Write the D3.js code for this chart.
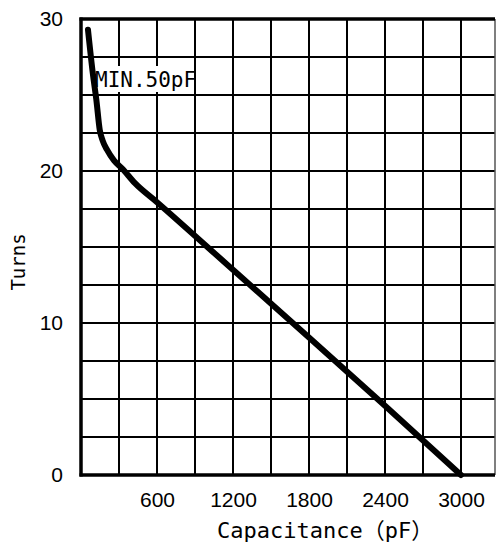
<!DOCTYPE html>
<html>
<head>
<meta charset="utf-8">
<script src="https://cdn.jsdelivr.net/npm/d3@7"></script>
<style>
  html, body { margin: 0; padding: 0; background: #fff; }
  svg { display: block; }
</style>
</head>
<body>
<div id="chart"></div>
<script>
// curve: capacitance (pF) vs turns
const capacitance = [55, 95, 121, 148, 171, 205, 260, 321, 426, 600, 1200, 1800, 2400, 3000];
const turns       = [29.3, 26.3, 24.7, 22.7, 22.0, 21.4, 20.7, 20.2, 19.2, 17.95, 13.5, 9.05, 4.55, 0];

const xTicks = [600, 1200, 1800, 2400, 3000];
const yTicks = [0, 10, 20, 30];
const xGrid = [300, 600, 900, 1200, 1500, 1800, 2100, 2400, 2700, 3000];
const yGrid = [2.5, 5, 7.5, 10, 12.5, 15, 17.5, 20, 22.5, 25, 27.5];
const note = "MIN.50pF";

const W = 496, H = 544;
const plotL = 81, plotT = 19, plotB = 475, plotR = 495;

const x = d3.scaleLinear().domain([0, 3000]).range([plotL, 461]);
const y = d3.scaleLinear().domain([0, 30]).range([plotB, plotT]);

const svg = d3.select("#chart").append("svg")
    .attr("width", W)
    .attr("height", H);

// grid
svg.append("g")
    .selectAll("line")
    .data(xGrid)
    .join("line")
    .attr("x1", d => x(d)).attr("x2", d => x(d))
    .attr("y1", plotT).attr("y2", plotB)
    .attr("stroke", "#000").attr("stroke-width", 2);

svg.append("g")
    .selectAll("line")
    .data(yGrid)
    .join("line")
    .attr("x1", plotL).attr("x2", plotR)
    .attr("y1", d => y(d)).attr("y2", d => y(d))
    .attr("stroke", "#000").attr("stroke-width", 2);

// frame
svg.append("line").attr("x1", plotR).attr("x2", plotR).attr("y1", plotT).attr("y2", plotB)
    .attr("stroke", "#555").attr("stroke-width", 1.5);
svg.append("line").attr("x1", plotL - 1.5).attr("x2", plotR).attr("y1", plotT).attr("y2", plotT)
    .attr("stroke", "#000").attr("stroke-width", 3.5);
svg.append("line").attr("x1", plotL - 1.5).attr("x2", plotR).attr("y1", plotB).attr("y2", plotB)
    .attr("stroke", "#000").attr("stroke-width", 3.5);
svg.append("line").attr("x1", plotL).attr("x2", plotL).attr("y1", plotT - 1.5).attr("y2", plotB + 1.5)
    .attr("stroke", "#000").attr("stroke-width", 3.5);

// tick labels
const xAxis = svg.append("g")
    .attr("transform", `translate(0,${plotB})`)
    .call(d3.axisBottom(x).tickValues(xTicks).tickFormat(d3.format("d")).tickSize(0).tickPadding(17));
xAxis.select(".domain").remove();
xAxis.selectAll("text")
    .attr("fill", "#000")
    .style("font-family", "'Liberation Sans', Arial, sans-serif")
    .style("font-size", "21px");

const yAxis = svg.append("g")
    .attr("transform", `translate(${plotL},0)`)
    .call(d3.axisLeft(y).tickValues(yTicks).tickFormat(d3.format("d")).tickSize(0).tickPadding(18));
yAxis.select(".domain").remove();
yAxis.selectAll("text")
    .attr("fill", "#000")
    .style("font-family", "'Liberation Sans', Arial, sans-serif")
    .style("font-size", "21px");

// axis titles
svg.append("text")
    .attr("transform", "translate(25,262) rotate(-90)")
    .attr("text-anchor", "middle")
    .style("font-family", "'DejaVu Sans Mono', monospace")
    .style("font-size", "19px")
    .text("Turns");

const xt = svg.append("text")
    .attr("x", 217)
    .attr("y", 538)
    .style("font-family", "'DejaVu Sans Mono', monospace")
    .style("font-size", "22px");
xt.append("tspan").text("Capacitance");
xt.append("tspan").style("font-family", "'Noto Sans CJK JP', sans-serif").text("（");
xt.append("tspan").text("pF");
xt.append("tspan").style("font-family", "'Noto Sans CJK JP', sans-serif").text("）");

// note with white background
svg.append("rect")
    .attr("x", 91).attr("y", 66)
    .attr("width", 102).attr("height", 26)
    .attr("fill", "#fff");
svg.append("text")
    .attr("x", 95)
    .attr("y", 87)
    .style("font-family", "'DejaVu Sans Mono', monospace")
    .style("font-size", "21px")
    .text(note);

// curve
const pts = capacitance.map((c, i) => [c, turns[i]]);
const line = d3.line()
    .x(d => x(d[0]))
    .y(d => y(d[1]))
    .curve(d3.curveMonotoneX);

svg.append("path")
    .datum(pts)
    .attr("d", line)
    .attr("fill", "none")
    .attr("stroke", "#000")
    .attr("stroke-width", 6)
    .attr("stroke-linecap", "round")
    .attr("stroke-linejoin", "round");
</script>
</body>
</html>
